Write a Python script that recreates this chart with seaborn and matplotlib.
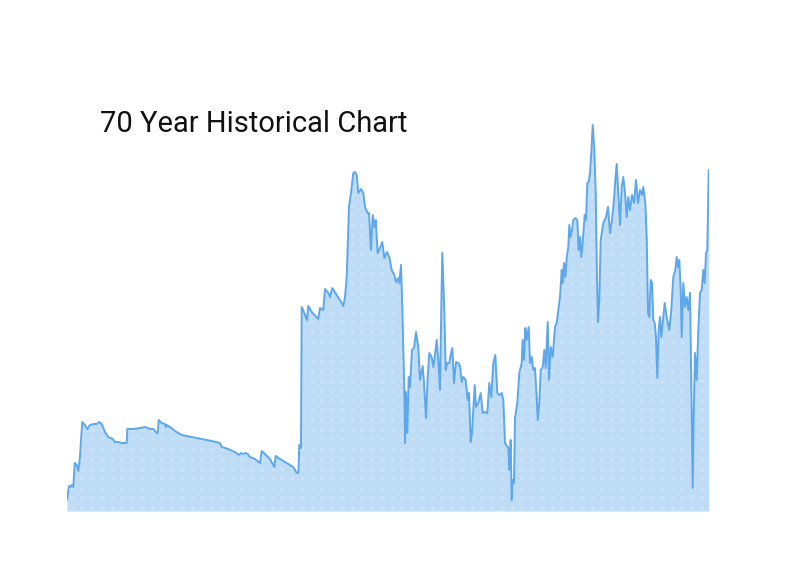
import numpy as np
import pandas as pd
import matplotlib
matplotlib.use('Agg')
import matplotlib.pyplot as plt
import seaborn as sns
from matplotlib.patches import Polygon

# time position (arbitrary units along the 70 years) and value
t = [0, 2, 3.7, 4.7, 6.3, 7.7, 9.7, 11.3, 13, 14, 15.3, 18, 20.3, 23, 26.3, 29.7, 32.3, 34.7,
     38, 41.3, 45.7, 48, 51.3, 54.7, 59.7, 60.3, 66.3, 73, 78, 83, 86.3, 89.7, 90.7, 91.7,
     94.7, 98, 99, 99.7, 103, 108, 114.7, 124.7, 134.7, 144.7, 153, 154.7, 161.3, 168, 172,
     174, 176.3, 178.7, 180.7, 183, 188, 193, 194.7, 198, 203, 207.3, 208.7, 213, 219.7,
     226.3, 229.7, 231.3, 232.3, 234, 234.7, 237.3, 240, 241.3, 244.7, 251.3, 253, 256.3,
     258, 261.3, 263, 265.3, 269.7, 274.7, 276.3, 278, 279.7, 282, 284, 286.3, 288, 289.7,
     291.3, 294, 296.3, 298, 300.7, 302, 304, 305.7, 307.3, 308.7, 310.7, 313, 315.3, 317.3,
     320, 322.3, 324.7, 327.3, 329, 331.3, 332.3, 334, 335.3, 337.3, 338, 339, 340.3, 341.7,
     343, 345, 347, 349, 351.3, 353, 355.7, 357, 359, 360.7, 362.3, 364.7, 366.3, 368, 369.7,
     371.3, 373, 374.3, 375.3, 376.3, 377.3, 378.7, 380.3, 382.3, 383.7, 385.3, 387, 389,
     391.3, 393, 394.7, 396.3, 398.7, 400.7, 402, 403.7, 405, 407.7, 409, 411.3, 413.7,
     415.7, 418, 420.3, 422.3, 424.3, 426.3, 428.3, 430.3, 432.3, 434.7, 436.3, 438, 441.3,
     442.3, 443.7, 444.7, 445.7, 447, 448, 450.3, 452.3, 454.7, 455.7, 457, 458.3, 459.7,
     461.7, 463, 464.7, 466.3, 468, 469.7, 470.7, 472.3, 473.7, 475.7, 477.3, 478.7, 480.7,
     482, 483.7, 485.7, 488, 489.7, 491.3, 493, 494.7, 495.7, 497, 498.3, 499.7, 501.3,
     502.3, 503.7, 505, 506.3, 508.3, 510.3, 511.7, 513, 514.3, 515.7, 517.7, 519, 520.3,
     521.7, 523, 524.3, 525.7, 527.3, 528.7, 530, 531, 532.3, 533.7, 536.3, 539, 541, 543,
     545, 547, 548.3, 549.7, 551.3, 553, 554.7, 556.3, 558, 559.7, 561.3, 563, 565, 567, 569,
     571, 573, 575, 576.3, 578.3, 579.7, 581, 582.3, 583.7, 585, 586.3, 587.7, 589, 590.3,
     591.7, 593, 594.3, 595.7, 597.7, 599.7, 602.3, 604.3, 606.3, 608.3, 609.7, 611, 612.3,
     613.7, 614.7, 616.3, 618, 619.7, 621.3, 623, 624.3, 625.7, 626.7, 628, 629.7, 631.3,
     633, 634.7, 636.3, 637.7, 639, 640.3, 641.7]
value = [11, 25, 24, 26, 24, 48, 46, 40, 54, 71, 89, 86, 82, 86, 87, 87, 89, 87,
         79, 74, 72, 69, 69, 68, 68, 82, 82, 83, 84, 82, 82, 78, 78, 91,
         88, 87, 84, 86, 84, 80, 76, 74, 72, 70, 68, 64, 62, 59, 56,
         58, 57, 58, 57, 54, 52, 48, 60, 57, 52, 44, 55, 52, 48,
         44, 38, 38, 66, 63, 204, 198, 191, 205, 199, 192, 203, 201,
         222, 218, 214, 223, 216, 208, 205, 214, 234, 304, 318, 338, 339, 336,
         318, 322, 318, 304, 298, 298, 261, 296, 284, 291, 258, 263, 269, 253,
         259, 254, 241, 236, 229, 233, 228, 246, 204, 121, 68, 119, 78, 134,
         124, 161, 163, 179, 164, 131, 145, 128, 93, 134, 158, 154, 144, 156, 171,
         151, 121, 204, 258, 231, 201, 141, 148, 148, 156, 163, 128, 149,
         148, 145, 129, 134, 131, 111, 118, 69, 78, 126, 104, 108, 118,
         98, 99, 98, 128, 114, 148, 156, 118, 116, 118, 111, 68, 63,
         41, 71, 11, 31, 28, 93, 108, 138, 148, 171, 151, 183, 171,
         184, 148, 154, 141, 143, 114, 91, 108, 141, 144, 161, 143, 189,
         131, 164, 154, 184, 188, 201, 214, 241, 228, 248, 234, 253, 264,
         286, 274, 281, 291, 293, 291, 261, 274, 254, 269, 296, 291, 328,
         329, 338, 358, 386, 361, 318, 234, 189, 211, 271, 288, 294, 304, 278,
         291, 311, 331, 347, 318, 286, 324, 334, 318, 294, 314, 301, 316, 308, 331,
         308, 321, 316, 324, 308, 274, 198, 194, 231, 228, 191, 188, 174, 133,
         181, 194, 174, 188, 208, 194, 181, 201, 234, 241, 254, 244, 251,
         221, 174, 228, 204, 214, 201, 218, 128, 23, 94, 158, 131, 181,
         218, 221, 241, 228, 258, 261, 341]

title = '70 Year Historical Chart'

line_color = '#5DA7EA'
fill_color = '#BEDCF5'

df = pd.DataFrame({'t': t, 'value': value})

sns.set_style('white')
plt.rcParams['font.family'] = ['Roboto', 'DejaVu Sans']

fig = plt.figure(figsize=(8, 5.72), dpi=100)
ax = fig.add_axes([67 / 800, 61 / 572, 642 / 800, 411 / 572])

# area under the curve
ax.fill_between(df['t'], df['value'], 0, color=fill_color, linewidth=0)

# faint dot texture inside the area
verts = [(df['t'].iloc[0], 0)] + list(zip(df['t'], df['value'])) + [(df['t'].iloc[-1], 0)]
clip = Polygon(verts, closed=True, transform=ax.transData, facecolor='none', edgecolor='none')
ax.add_patch(clip)
gx, gy = np.meshgrid(np.arange(5, 642, 10), np.arange(3.5, 411, 9.75))
dots = ax.scatter(gx.ravel(), gy.ravel(), s=9, color='white', alpha=0.18, linewidths=0)
dots.set_clip_path(clip)

sns.lineplot(data=df, x='t', y='value', ax=ax, color=line_color, linewidth=1.4)

ax.set_xlim(0, 642)
ax.set_ylim(0, 411)
ax.set_axis_off()

fig.text(100 / 800, 1 - 132 / 572, title, fontsize=21, color='#111111', va='baseline', ha='left')

plt.savefig('out.png', dpi=100)
